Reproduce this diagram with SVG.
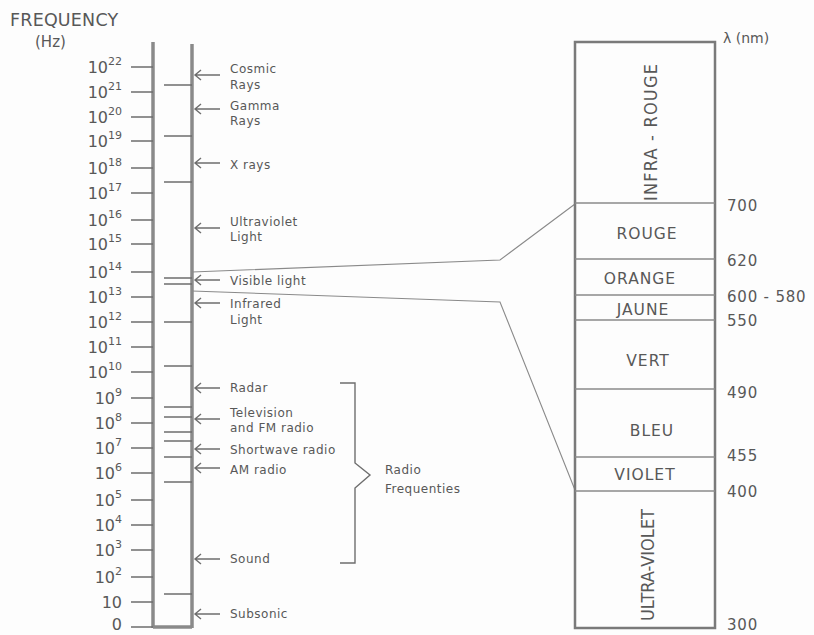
<svg xmlns="http://www.w3.org/2000/svg" width="814" height="635" viewBox="0 0 814 635">
<style>
text{font-family:"DejaVu Sans","Liberation Sans",sans-serif;fill:#585858}
.ax{stroke:#8a8a8a;stroke-width:3.5;fill:none}
.tk{stroke:#6e6e6e;stroke-width:1.6;fill:none}
.ar{stroke:#6e6e6e;stroke-width:1.4;fill:none}
.cn{stroke:#8a8a8a;stroke-width:1.1;fill:none}
.bx{stroke:#7a7a7a;stroke-width:2.5;fill:none}
.dv{stroke:#8a8a8a;stroke-width:1.5;fill:none}
.fq{font-size:16px}
.sp{font-size:11px}
.lb{font-size:12px;letter-spacing:0.5px}
.bd{font-size:15.5px;letter-spacing:1px;text-anchor:middle}
.nm{font-size:15px;letter-spacing:0.8px}
.vt{font-family:"DejaVu Sans Condensed","DejaVu Sans",sans-serif;font-size:18px;text-anchor:middle}
</style>
<rect width="814" height="635" fill="#fdfdfd"/>
<g id="title">
<text x="10" y="26" font-size="17.5" letter-spacing="0.2">FREQUENCY</text>
<text x="35" y="47" font-size="15">(Hz)</text>
</g>
<g id="scale">
<path class="ax" d="M153,42 V628 M192,44 V628 M153,627 H192"/>
<path class="tk" d="M131,67H153 M131,92H153 M131,117H153 M131,141H153 M131,168H153 M131,193H153 M131,220H153 M131,244H153 M131,272H153 M131,297H153 M131,322H153 M131,347H153 M131,372H153 M131,398H153 M131,423H153 M131,448H153 M131,473H153 M131,500H153 M131,525H153 M131,550H153 M131,577H153 M131,602H153 M131,627H153"/>
<path class="tk" d="M164,85H192 M164,136H192 M164,182H192 M164,278H192 M164,284H192 M164,322H192 M164,366H192 M164,407H192 M164,417H192 M164,432H192 M164,441H192 M164,457H192 M164,482H192 M164,594H192"/>
</g>
<g id="freq-labels" text-anchor="end">
<text class="fq" x="122" y="73">10<tspan class="sp" dy="-8">22</tspan></text>
<text class="fq" x="122" y="98">10<tspan class="sp" dy="-8">21</tspan></text>
<text class="fq" x="122" y="123">10<tspan class="sp" dy="-8">20</tspan></text>
<text class="fq" x="122" y="147">10<tspan class="sp" dy="-8">19</tspan></text>
<text class="fq" x="122" y="174">10<tspan class="sp" dy="-8">18</tspan></text>
<text class="fq" x="122" y="199">10<tspan class="sp" dy="-8">17</tspan></text>
<text class="fq" x="122" y="226">10<tspan class="sp" dy="-8">16</tspan></text>
<text class="fq" x="122" y="250">10<tspan class="sp" dy="-8">15</tspan></text>
<text class="fq" x="122" y="278">10<tspan class="sp" dy="-8">14</tspan></text>
<text class="fq" x="122" y="303">10<tspan class="sp" dy="-8">13</tspan></text>
<text class="fq" x="122" y="328">10<tspan class="sp" dy="-8">12</tspan></text>
<text class="fq" x="122" y="353">10<tspan class="sp" dy="-8">11</tspan></text>
<text class="fq" x="122" y="378">10<tspan class="sp" dy="-8">10</tspan></text>
<text class="fq" x="122" y="404">10<tspan class="sp" dy="-8">9</tspan></text>
<text class="fq" x="122" y="429">10<tspan class="sp" dy="-8">8</tspan></text>
<text class="fq" x="122" y="454">10<tspan class="sp" dy="-8">7</tspan></text>
<text class="fq" x="122" y="479">10<tspan class="sp" dy="-8">6</tspan></text>
<text class="fq" x="122" y="506">10<tspan class="sp" dy="-8">5</tspan></text>
<text class="fq" x="122" y="531">10<tspan class="sp" dy="-8">4</tspan></text>
<text class="fq" x="122" y="556">10<tspan class="sp" dy="-8">3</tspan></text>
<text class="fq" x="122" y="583">10<tspan class="sp" dy="-8">2</tspan></text>
<text class="fq" x="122" y="608">10</text>
<text class="fq" x="122" y="630">0</text>
</g>
<g id="band-arrows">
<path class="ar" d="M220,75H195 M201,70L195,75L201,80"/>
<path class="ar" d="M220,109H195 M201,104L195,109L201,114"/>
<path class="ar" d="M220,163H195 M201,158L195,163L201,168"/>
<path class="ar" d="M220,228H195 M201,223L195,228L201,233"/>
<path class="ar" d="M220,280H195 M201,275L195,280L201,285"/>
<path class="ar" d="M220,303H195 M201,298L195,303L201,308"/>
<path class="ar" d="M220,388H195 M201,383L195,388L201,393"/>
<path class="ar" d="M220,419H195 M201,414L195,419L201,424"/>
<path class="ar" d="M220,449H195 M201,444L195,449L201,454"/>
<path class="ar" d="M220,468H195 M201,463L195,468L201,473"/>
<path class="ar" d="M220,559H195 M201,554L195,559L201,564"/>
<path class="ar" d="M220,614H195 M201,609L195,614L201,619"/>
</g>
<g id="band-labels">
<text class="lb" x="230" y="73">Cosmic</text>
<text class="lb" x="230" y="89">Rays</text>
<text class="lb" x="230" y="109.5">Gamma</text>
<text class="lb" x="230" y="125">Rays</text>
<text class="lb" x="230" y="168.5">X rays</text>
<text class="lb" x="230" y="225.5">Ultraviolet</text>
<text class="lb" x="230" y="241">Light</text>
<text class="lb" x="230" y="285">Visible light</text>
<text class="lb" x="230" y="308">Infrared</text>
<text class="lb" x="230" y="324">Light</text>
<text class="lb" x="230" y="391.5">Radar</text>
<text class="lb" x="230" y="417">Television</text>
<text class="lb" x="230" y="431.5">and FM radio</text>
<text class="lb" x="230" y="454">Shortwave radio</text>
<text class="lb" x="230" y="474">AM radio</text>
<text class="lb" x="230" y="563">Sound</text>
<text class="lb" x="230" y="618">Subsonic</text>
</g>
<g id="radio-bracket">
<path class="ar" d="M340,383H355V463L370,475L355,488V563H340"/>
<text class="lb" x="385" y="474">Radio</text>
<text class="lb" x="385" y="493">Frequenties</text>
</g>
<g id="connectors">
<path class="cn" d="M192,272L500,260L575,204"/>
<path class="cn" d="M192,291L500,302L575,490"/>
</g>
<g id="spectrum-box">
<rect class="bx" x="575" y="42" width="140" height="586"/>
<path class="dv" d="M575,203H715 M575,259H715 M575,295H715 M575,320H715 M575,389H715 M575,457H715 M575,491H715"/>
<text x="723" y="43" font-size="14">λ (nm)</text>
</g>
<g id="bands">
<text class="vt" transform="translate(657,132) rotate(-90)" letter-spacing="1.2">INFRA - ROUGE</text>
<text class="bd" x="647" y="238.5">ROUGE</text>
<text class="bd" x="640" y="283.5">ORANGE</text>
<text class="bd" x="643" y="314.5">JAUNE</text>
<text class="bd" x="648" y="365.5">VERT</text>
<text class="bd" x="652" y="435.5">BLEU</text>
<text class="bd" x="645" y="479.5">VIOLET</text>
<text class="vt" transform="translate(654,565) rotate(-90)">ULTRA-VIOLET</text>
</g>
<g id="wavelengths">
<text class="nm" x="727" y="210.5">700</text>
<text class="nm" x="727" y="265.5">620</text>
<text class="nm" x="727" y="301.5">600 - 580</text>
<text class="nm" x="727" y="325.5">550</text>
<text class="nm" x="727" y="397.5">490</text>
<text class="nm" x="727" y="460.5">455</text>
<text class="nm" x="727" y="496.5">400</text>
<text class="nm" x="727" y="630">300</text>
</g>
</svg>
